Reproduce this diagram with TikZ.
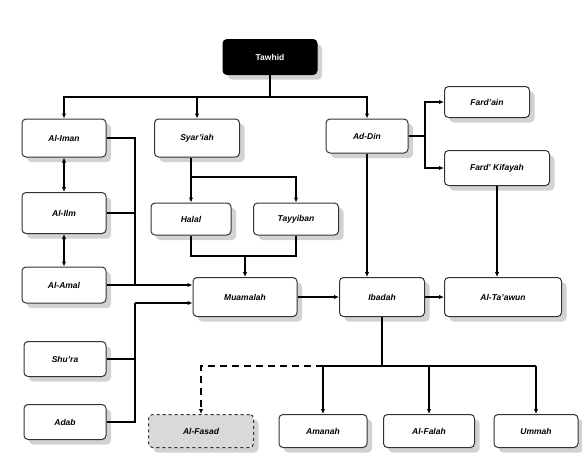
\documentclass[tikz,border=0pt]{standalone}
\usepackage{fontspec}
\setmainfont{Liberation Sans}
\usetikzlibrary{arrows.meta,shadows,calc}
\begin{document}
\begin{tikzpicture}[x=1pt,y=-1pt,
  box/.style={draw=black!80, line width=1pt, rounded corners=4pt, fill=white,
    drop shadow={shadow xshift=5pt,shadow yshift=-5pt,fill=black!35},
    font=\fontsize{8.5}{10}\selectfont\bfseries\itshape, inner sep=1pt},
  topbox/.style={draw=black, line width=1pt, rounded corners=4pt, fill=black, text=white,
    drop shadow={shadow xshift=5pt,shadow yshift=-5pt,fill=black!35},
    font=\fontsize{8.5}{10}\selectfont\bfseries, inner sep=1pt},
  dbox/.style={box, dashed, fill=black!15},
  ln/.style={line width=1.3pt, black},
  arr/.style={ln, -{Latex[length=5pt,width=4.5pt]}},
  darr/.style={ln, {Latex[length=5pt,width=4.5pt]}-{Latex[length=5pt,width=4.5pt]}}
]
\useasboundingbox (0,0) rectangle (582,453);
\node[topbox, minimum width=94pt, minimum height=35pt] (tawhid) at (270,57) {Tawhid};
\node[box, minimum width=84pt, minimum height=38pt] (iman) at (64,138) {Al-Iman};
\node[box, minimum width=85pt, minimum height=38pt] (syariah) at (197,138) {Syar'iah};
\node[box, minimum width=82pt, minimum height=34pt] (addin) at (367,136) {Ad-Din};
\node[box, minimum width=85pt, minimum height=31pt] (fardain) at (487,102) {Fard'ain};
\node[box, minimum width=105pt, minimum height=35pt] (kifayah) at (497,168) {Fard' Kifayah};
\node[box, minimum width=84pt, minimum height=41pt] (ilm) at (64,213) {Al-Ilm};
\node[box, minimum width=80pt, minimum height=32pt] (halal) at (191,219) {Halal};
\node[box, minimum width=85pt, minimum height=32pt] (tayyiban) at (296,219) {Tayyiban};
\node[box, minimum width=84pt, minimum height=36pt] (amal) at (64,285) {Al-Amal};
\node[box, minimum width=104pt, minimum height=39pt] (muamalah) at (245,297) {Muamalah};
\node[box, minimum width=85pt, minimum height=39pt] (ibadah) at (382,297) {Ibadah};
\node[box, minimum width=117pt, minimum height=39pt] (taawun) at (503,297) {Al-Ta'awun};
\node[box, minimum width=82pt, minimum height=35pt] (shura) at (65,359) {Shu'ra};
\node[box, minimum width=82pt, minimum height=35pt] (adab) at (65,422) {Adab};
\node[dbox, minimum width=105pt, minimum height=33pt] (fasad) at (201,431) {Al-Fasad};
\node[box, minimum width=88pt, minimum height=33pt] (amanah) at (323,431) {Amanah};
\node[box, minimum width=91pt, minimum height=33pt] (falah) at (429,431) {Al-Falah};
\node[box, minimum width=84pt, minimum height=33pt] (ummah) at (536,431) {Ummah};

\coordinate (b1) at (270,97);
\coordinate (jx) at (135,285);
\coordinate (jy) at (135,303);
\coordinate (s) at (0,177);
\coordinate (h) at (245,256);
\coordinate (d) at (425,136);
\coordinate (ib) at (0,366);

% Tawhid bus
\draw[ln] (tawhid.south) -- (b1);
\draw[arr] (b1) -| (iman.north);
\draw[arr] (b1) -| (syariah.north);
\draw[arr] (b1) -| (addin.north);

% left column
\draw[darr] (iman.south) -- (ilm.north);
\draw[darr] (ilm.south) -- (amal.north);
\draw[ln] (iman.east) -| (jx);
\draw[ln] (ilm.east) -- (ilm.east -| jx);
\draw[arr] (amal.east) -- (amal.east -| muamalah.west);
\draw[ln] (adab.east) -| (jy);
\draw[ln] (shura.east) -- (shura.east -| jy);
\draw[arr] (jy) -- (jy -| muamalah.west);

% Syar'iah
\draw[arr] (syariah.south -| halal.north) -- (halal.north);
\draw[arr] (halal.north |- s) -| (tayyiban.north);
\draw[ln] (halal.south) |- (h);
\draw[ln] (tayyiban.south) |- (h);
\draw[arr] (h) -- (muamalah.north);

% middle row
\draw[arr] (muamalah.east) -- (ibadah.west);
\draw[arr] (ibadah.east) -- (taawun.west);
\draw[arr] (addin.south) -- (addin.south |- ibadah.north);

% Ad-Din branches
\draw[ln] (addin.east) -- (d);
\draw[arr] (d) |- (fardain.west);
\draw[arr] (d) |- (kifayah.west);
\draw[arr] (kifayah.south) -- (kifayah.south |- taawun.north);

% bottom bus
\draw[ln] (ibadah.south) -- (ibadah.south |- ib);
\draw[ln] (amanah.north |- ib) -- (ummah.north |- ib);
\draw[arr] (amanah.north |- ib) -- (amanah.north);
\draw[arr] (falah.north |- ib) -- (falah.north);
\draw[arr] (ummah.north |- ib) -- (ummah.north);
\draw[arr, dashed, dash pattern=on 7pt off 5pt] (amanah.north |- ib) -| (fasad.north);
\end{tikzpicture}
\end{document}
